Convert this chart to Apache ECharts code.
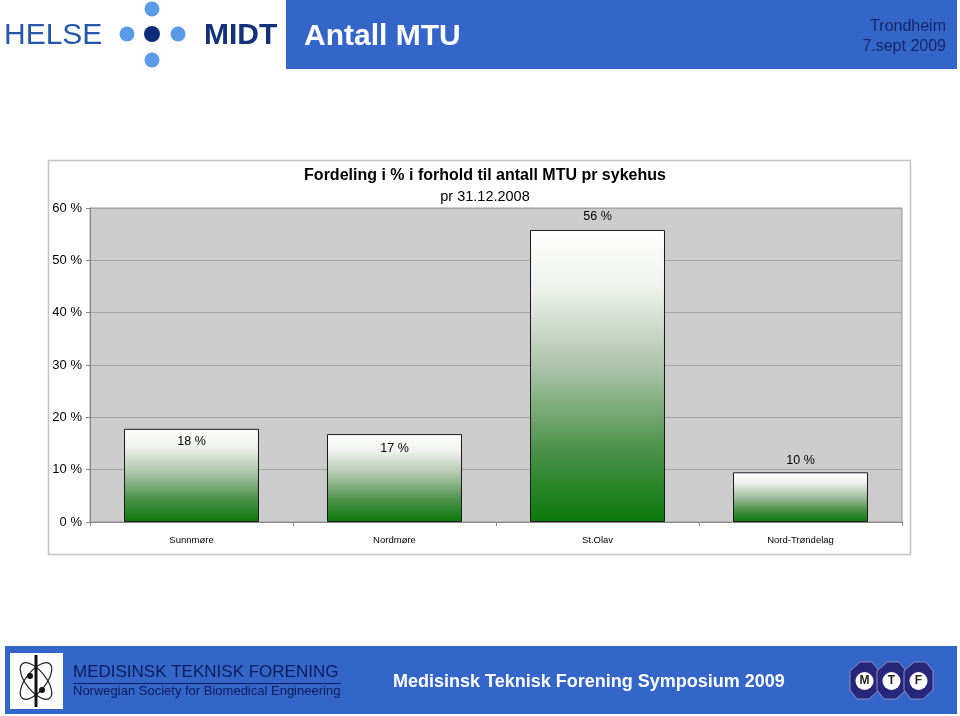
<!DOCTYPE html>
<html>
<head>
<meta charset="utf-8">
<title>Antall MTU</title>
<script src="https://cdn.jsdelivr.net/npm/echarts@6/dist/echarts.min.js"></script>
<style>
  html, body { margin: 0; padding: 0; background: #ffffff; }
  #main { width: 960px; height: 716px; }
</style>
</head>
<body>
<div id="main"></div>
<script>
// data
var hospitals = ['Sunnmøre', 'Nordmøre', 'St.Olav', 'Nord-Trøndelag'];
var shares = [17.8, 16.8, 55.8, 9.5];
var yTicks = [0, 10, 20, 30, 40, 50, 60];

var FONT = "'Liberation Sans', Arial, sans-serif";
var BLUE = '#3466c9';
var NAVY = '#14286b';

// where each value label sits (Excel placed them by hand)
var labelSpots = [
  {position: 'insideTop', distance: 6},
  {position: 'insideTop', distance: 8},
  {position: 'top', distance: 7},
  {position: 'top', distance: 5}
];

var barFill = new echarts.graphic.LinearGradient(0, 0, 0, 1, [
  {offset: 0, color: '#ffffff'},
  {offset: 0.2, color: '#eef1ec'},
  {offset: 0.48, color: '#a8c2a5'},
  {offset: 0.75, color: '#4c924a'},
  {offset: 1, color: '#0b790b'}
]);

var myChart = echarts.init(document.getElementById('main'));

var opt = {
  backgroundColor: '#ffffff',
  animation: false,
  title: {
    text: 'Fordeling i % i forhold til antall MTU pr sykehus',
    subtext: 'pr 31.12.2008',
    left: 480,
    textAlign: 'center',
    top: 163,
    itemGap: 5,
    textStyle: {fontFamily: FONT, fontSize: 16, fontWeight: 'bold', color: '#000'},
    subtextStyle: {fontFamily: FONT, fontSize: 14.5, color: '#000'}
  },
  grid: {
    left: 90, top: 208, width: 812, height: 314,
    show: true, backgroundColor: '#cccccc', borderColor: '#9a9a9a', borderWidth: 1
  },
  xAxis: {
    type: 'category',
    data: hospitals,
    axisLine: {lineStyle: {color: '#888'}},
    axisTick: {show: true, length: 4, lineStyle: {color: '#888'}},
    axisLabel: {fontFamily: FONT, fontSize: 9.5, color: '#000', margin: 13}
  },
  yAxis: {
    type: 'value',
    min: yTicks[0],
    max: yTicks[yTicks.length - 1],
    interval: yTicks[1] - yTicks[0],
    axisLine: {show: true, lineStyle: {color: '#888'}},
    axisTick: {show: true, length: 4, lineStyle: {color: '#888'}},
    axisLabel: {fontFamily: FONT, fontSize: 13, color: '#000', margin: 8, formatter: '{value} %'},
    splitLine: {lineStyle: {color: '#a4a4a4'}}
  },
  series: [{
    name: 'Andel MTU',
    type: 'bar',
    barCategoryGap: '33.5%',
    itemStyle: {color: barFill, borderColor: '#1a1a1a', borderWidth: 1},
    label: {
      show: true,
      fontFamily: FONT, fontSize: 12.5, color: '#000',
      formatter: function (p) { return Math.round(p.value) + ' %'; }
    },
    data: shares.map(function (v, i) {
      return {value: v, label: labelSpots[i]};
    })
  }],
  graphic: [
    // chart frame
    {type: 'rect', z: -10, shape: {x: 48.5, y: 160.5, width: 862, height: 394},
      style: {fill: '#fff', stroke: '#c4c4c4', lineWidth: 1.5}},
    // header logo
    {type: 'text', left: 4, top: 21, style: {text: 'HELSE', font: '30px ' + FONT, fill: '#2457a8'}},
    {type: 'circle', shape: {cx: 152, cy: 9, r: 7.5}, style: {fill: '#5b9ae6'}},
    {type: 'circle', shape: {cx: 127, cy: 34, r: 7.5}, style: {fill: '#5b9ae6'}},
    {type: 'circle', shape: {cx: 152, cy: 34, r: 8}, style: {fill: '#0e2c78'}},
    {type: 'circle', shape: {cx: 178, cy: 34, r: 7.5}, style: {fill: '#5b9ae6'}},
    {type: 'circle', shape: {cx: 152, cy: 60, r: 7.5}, style: {fill: '#5b9ae6'}},
    {type: 'text', left: 204, top: 21, style: {text: 'MIDT', font: 'bold 30px ' + FONT, fill: '#13327a'}},
    // header banner
    {type: 'rect', shape: {x: 286, y: 0, width: 671, height: 69}, style: {fill: BLUE}},
    {type: 'text', left: 304, top: 22, style: {text: 'Antall MTU', font: 'bold 30px ' + FONT, fill: '#ffffff'}},
    {type: 'text', right: 14, top: 19, style: {text: 'Trondheim', font: '16px ' + FONT, fill: NAVY, align: 'right'}},
    {type: 'text', right: 14, top: 39, style: {text: '7.sept 2009', font: '16px ' + FONT, fill: NAVY, align: 'right'}},
    // footer banner
    {type: 'rect', shape: {x: 5, y: 646, width: 952, height: 68}, style: {fill: BLUE}},
    {type: 'rect', shape: {x: 10, y: 653, width: 53, height: 56}, style: {fill: '#ffffff'}},
    {type: 'ellipse', shape: {cx: 36, cy: 681, rx: 22, ry: 10}, rotation: 0.9, originX: 36, originY: 681,
      style: {fill: 'none', stroke: '#222', lineWidth: 1.2}},
    {type: 'ellipse', shape: {cx: 36, cy: 681, rx: 22, ry: 10}, rotation: -0.9, originX: 36, originY: 681,
      style: {fill: 'none', stroke: '#222', lineWidth: 1.2}},
    {type: 'line', shape: {x1: 36, y1: 655, x2: 36, y2: 707}, style: {stroke: '#111', lineWidth: 3}},
    {type: 'circle', shape: {cx: 30, cy: 676, r: 3}, style: {fill: '#111'}},
    {type: 'circle', shape: {cx: 42, cy: 690, r: 3}, style: {fill: '#111'}},
    {type: 'text', left: 73, top: 664, style: {text: 'MEDISINSK TEKNISK FORENING', font: '17px ' + FONT, fill: '#0b1d5a'}},
    {type: 'line', shape: {x1: 73, y1: 683.5, x2: 341, y2: 683.5}, style: {stroke: '#0b1d5a', lineWidth: 1}},
    {type: 'text', left: 73, top: 685, style: {text: 'Norwegian Society for Biomedical Engineering', font: '13px ' + FONT, fill: '#0b1d5a'}},
    {type: 'text', left: 393, top: 673, style: {text: 'Medisinsk Teknisk Forening Symposium 2009', font: 'bold 18px ' + FONT, fill: '#ffffff'}},
    // MTF badge
    {type: 'polygon', shape: {points: [[850, 671], [860, 662], [872, 662], [879, 671], [879, 690], [869, 699], [857, 699], [850, 690]]},
      style: {fill: '#26267a', stroke: '#8d8dc4', lineWidth: 1}},
    {type: 'polygon', shape: {points: [[877, 671], [887, 662], [899, 662], [906, 671], [906, 690], [896, 699], [884, 699], [877, 690]]},
      style: {fill: '#26267a', stroke: '#8d8dc4', lineWidth: 1}},
    {type: 'polygon', shape: {points: [[904, 671], [914, 662], [926, 662], [933, 671], [933, 690], [923, 699], [911, 699], [904, 690]]},
      style: {fill: '#26267a', stroke: '#8d8dc4', lineWidth: 1}},
    {type: 'circle', shape: {cx: 864.5, cy: 681, r: 9}, style: {fill: '#ffffff'}},
    {type: 'circle', shape: {cx: 891.5, cy: 681, r: 9}, style: {fill: '#ffffff'}},
    {type: 'circle', shape: {cx: 918.5, cy: 681, r: 9}, style: {fill: '#ffffff'}},
    {type: 'text', x: 864.5, y: 681, style: {text: 'M', font: 'bold 12px ' + FONT, fill: '#222', align: 'center', verticalAlign: 'middle'}},
    {type: 'text', x: 891.5, y: 681, style: {text: 'T', font: 'bold 12px ' + FONT, fill: '#222', align: 'center', verticalAlign: 'middle'}},
    {type: 'text', x: 918.5, y: 681, style: {text: 'F', font: 'bold 12px ' + FONT, fill: '#222', align: 'center', verticalAlign: 'middle'}}
  ]
};

myChart.setOption(opt);
</script>
</body>
</html>
